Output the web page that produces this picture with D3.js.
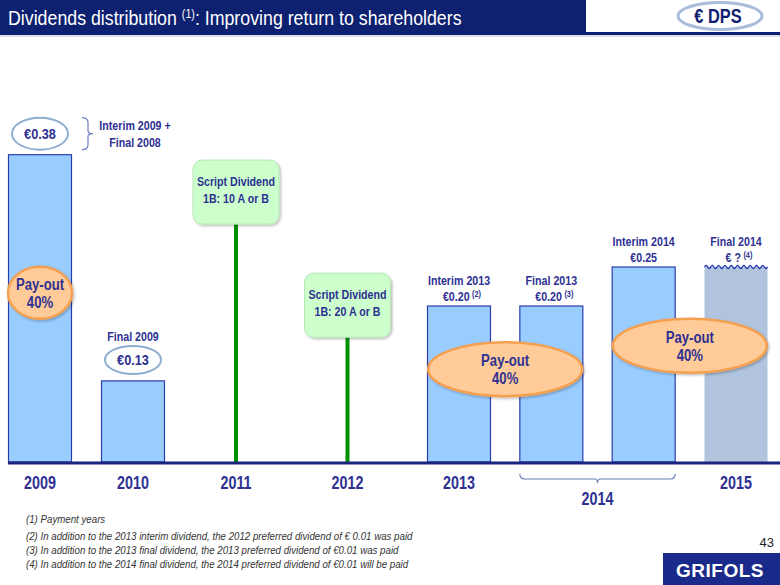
<!DOCTYPE html>
<html><head><meta charset="utf-8">
<script src="https://cdn.jsdelivr.net/npm/d3@7"></script>
<style>
html,body{margin:0;padding:0;background:#fff;}
svg{display:block;}
text{font-family:"Liberation Sans",Arial,sans-serif;}
</style></head>
<body>
<svg id="c" width="780" height="585"></svg>
<script>
// ---------------- DATA ----------------
const slotKeys = ["2009","2010","2011","2012","Interim 2013","Final 2013","Interim 2014","Final 2014"];
const barNames = ["2009","2010","Interim 2013","Final 2013","Interim 2014","Final 2014"];
const barValues = [0.394, 0.104, 0.20, 0.20, 0.25, 0.25];      // bar heights (€)
const barLabels = ["€0.38","€0.13","€0.20","€0.20","€0.25","€ ?"];
const barTitles = ["","Final 2009","Interim 2013","Final 2013","Interim 2014","Final 2014"];
const barNotes = ["","","(2)","(3)","","(4)"];
const barEstimated = [false,false,false,false,false,true];
const scriptYears = ["2011","2012"];
const scriptRatios = ["1B: 10  A or B","1B: 20  A or B"];
const scriptLevels = [0.305, 0.160];
const yearLabels = ["2009","2010","2011","2012","2013","2015"];
const yearSlots = ["2009","2010","2011","2012","Interim 2013","Final 2014"];
const groupLabel = "2014";
const groupSlots = ["Final 2013","Interim 2014"];
const payoutGroups = [["2009"],["Interim 2013","Final 2013"],["Interim 2014","Final 2014"]];
const payoutLevels = [0.217, 0.119, 0.149];
const payoutText = ["Pay-out","40%"];
const footnotes = [
 "(1) Payment years",
 "(2) In addition to the 2013 interim dividend, the 2012 preferred dividend of € 0.01 was paid",
 "(3) In addition to the 2013 final dividend, the 2013 preferred dividend of €0.01 was paid",
 "(4) In addition to the 2014 final dividend, the 2014 preferred dividend of €0.01 will be paid"
];

// ---------------- LAYOUT ----------------
const W = 780, H = 585;
const navy = "#0d2170", txt = "#2e3192";
const NARROW = 0.82;
const svg = d3.select("#c");
const defs = svg.append("defs");
const f = defs.append("filter").attr("id","sh").attr("x","-20%").attr("y","-20%").attr("width","150%").attr("height","150%");
f.append("feDropShadow").attr("dx",1.5).attr("dy",1.5).attr("stdDeviation",1.2).attr("flood-color","#000").attr("flood-opacity",0.25);

// narrow bold text helper (emulates Arial Narrow)
function nt(x, y, size, anchor="middle", weight="bold", fill=txt) {
  return svg.append("g").attr("transform",`translate(${x},${y}) scale(${NARROW},1)`)
    .append("text").attr("text-anchor",anchor).attr("font-weight",weight)
    .attr("font-size",size).attr("fill",fill);
}

const slotIdx = d3.scaleOrdinal().domain(slotKeys).range(d3.range(slotKeys.length));
const xPos = d3.scaleLinear().domain([0,1,2,4,7]).range([40,133,236,459,736]);
const x = k => xPos(slotIdx(k));
const base = 462;
const y = d3.scaleLinear().domain([0,0.25]).range([base,267]);
const bw = 63;

// header
svg.append("rect").attr("x",0).attr("y",0).attr("width",586).attr("height",34).attr("fill",navy);
svg.append("line").attr("x1",0).attr("x2",W).attr("y1",33.5).attr("y2",33.5).attr("stroke",navy).attr("stroke-width",3);
svg.append("line").attr("x1",0).attr("x2",W).attr("y1",36).attr("y2",36).attr("stroke","#d0d4e0").attr("stroke-width",1.5);
{
  const g = svg.append("g").attr("transform","translate(8,25)");
  const tt = g.append("text").attr("font-size",20).attr("fill","#fff");
  tt.append("tspan").text("Dividends distribution ");
  tt.append("tspan").attr("font-size",12).attr("dy",-7).text("(1)");
  tt.append("tspan").attr("dy",7).text(": Improving return to shareholders");
  const L = tt.node().getComputedTextLength();
  g.attr("transform",`translate(8,25) scale(${454/L},1)`);
}
svg.append("ellipse").attr("cx",720).attr("cy",16).attr("rx",42).attr("ry",13.5)
  .attr("fill","#fff").attr("stroke","#a9bcd9").attr("stroke-width",3);
nt(718,23,20,"middle","bold",navy).text("€ DPS");

// bars
const bars = barNames.map((n,i)=>({n, v:barValues[i], lab:barLabels[i], t:barTitles[i], note:barNotes[i], est:barEstimated[i]}));
svg.selectAll("rect.bar").data(bars).join("rect").attr("class","bar")
  .attr("x",d=>x(d.n)-bw/2).attr("width",bw)
  .attr("y",d=>y(d.v)).attr("height",d=>base-y(d.v))
  .attr("fill",d=>d.est?"#b0c4de":"#99ccff")
  .attr("stroke",d=>d.est?"none":"#2b3cb0").attr("stroke-width",1.2);

// wavy top on estimated bar
bars.filter(d=>d.est).forEach(d=>{
  const x0 = x(d.n)-bw/2, yy = y(d.v);
  const pts = d3.range(0,bw+0.01,1).map(t=>[x0+t, yy - 1.6*Math.sin(t/bw*Math.PI*2*10)]);
  svg.append("path").attr("d",d3.line()(pts)).attr("fill","none").attr("stroke","#2b3cb0").attr("stroke-width",1.3);
});

// script dividends
scriptYears.forEach((k,i)=>{
  const cx = x(k), top = y(scriptLevels[i]);
  svg.append("line").attr("x1",cx).attr("x2",cx).attr("y1",top).attr("y2",base)
    .attr("stroke","#009000").attr("stroke-width",4);
  svg.append("rect").attr("x",cx-43).attr("y",top-64).attr("width",86).attr("height",64).attr("rx",9)
    .attr("fill","#ccffcc").attr("stroke","#b5e8b5").attr("stroke-width",1).attr("filter","url(#sh)");
  nt(cx, top-38, 13).text("Script Dividend");
  nt(cx, top-21, 13).text(scriptRatios[i]);
});

// baseline
svg.append("line").attr("x1",8).attr("x2",W).attr("y1",base+1).attr("y2",base+1).attr("stroke","#1a237e").attr("stroke-width",3);

// labels above bars
bars.forEach((d,i)=>{
  const cx = x(d.n), top = y(d.v);
  if (i<2) {
    const cy = top-21;
    svg.append("ellipse").attr("cx",cx).attr("cy",cy).attr("rx",28).attr("ry",i===0?16:14)
      .attr("fill","#fff").attr("stroke","#8eaed0").attr("stroke-width",2);
    nt(cx, cy+5, 15.5).text(d.lab);
    if (d.t) nt(cx, top-40, 13).text(d.t);
  } else {
    nt(cx, top-21, 13).text(d.t);
    const t = nt(cx + (d.note ? 3 : 0), top-5, 13);
    t.append("tspan").text(d.lab);
    if (d.note) t.append("tspan").attr("font-size",9).attr("dx",3).attr("dy",-4).text(d.note);
  }
});

// Interim 2009 + Final 2008 bracket
{
  const cy = y(barValues[0])-21, bx = x("2009")+42;
  svg.append("path").attr("d",`M${bx},${cy-16} q6,0 6,5 v8 q0,3 5,3 q-5,0 -5,3 v8 q0,5 -6,5`)
    .attr("fill","none").attr("stroke","#6f7fc0").attr("stroke-width",1.2);
  nt(bx+53, cy-4, 13).text("Interim 2009 +");
  nt(bx+53, cy+13, 13).text("Final 2008");
}

// pay-out ellipses
payoutGroups.forEach((g,i)=>{
  const cx = d3.mean(g, k=>x(k)), cy = y(payoutLevels[i]);
  const rx = g.length>1 ? 77 : 32, ry = g.length>1 ? 27 : 26;
  svg.append("ellipse").attr("cx",cx).attr("cy",cy).attr("rx",rx).attr("ry",ry)
    .attr("fill","#ffcc99").attr("stroke","#f5a050").attr("stroke-width",2.5).attr("filter","url(#sh)");
  nt(cx, cy-3, 16).text(payoutText[0]);
  nt(cx, cy+15, 16).text(payoutText[1]);
});

// year labels
yearLabels.forEach((yl,i)=>{
  nt(x(yearSlots[i]), base+27, 17.5).text(yl);
});
{
  const x1 = x(groupSlots[0])-bw/2, x2 = x(groupSlots[1])+bw/2, mx=(x1+x2)/2, by = base+12;
  svg.append("path").attr("d",`M${x1},${by} q0,5 5,5 H${mx-3} q3,0 3,4 q0,-4 3,-4 H${x2-5} q5,0 5,-5`)
    .attr("fill","none").attr("stroke","#6f7fc0").attr("stroke-width",1.2);
  nt(mx, base+43, 17.5).text(groupLabel);
}

// footnotes
{
  const g = svg.append("g");
  const fn = g.append("text").attr("font-style","italic").attr("font-size",11).attr("fill","#333");
  footnotes.forEach((s,i)=>fn.append("tspan").attr("x",0).attr("y",[523,540,554,568][i]).text(s));
  const L = fn.selectAll("tspan").nodes()[1].getComputedTextLength();
  g.attr("transform",`translate(26,0) scale(${387/L},1)`);
}

// page number & logo
svg.append("text").attr("x",774).attr("y",547).attr("text-anchor","end")
  .attr("font-size",13).attr("fill","#222").text("43");
svg.append("rect").attr("x",663).attr("y",553).attr("width",117).attr("height",32).attr("fill","#1a2a8a");
svg.append("text").attr("x",720).attr("y",577).attr("text-anchor","middle").attr("font-family","Open Sans, Liberation Sans, sans-serif")
  .attr("font-weight","bold").attr("font-size",19).attr("fill","#fff").attr("letter-spacing",0.5).text("GRIFOLS");
</script>
</body></html>
